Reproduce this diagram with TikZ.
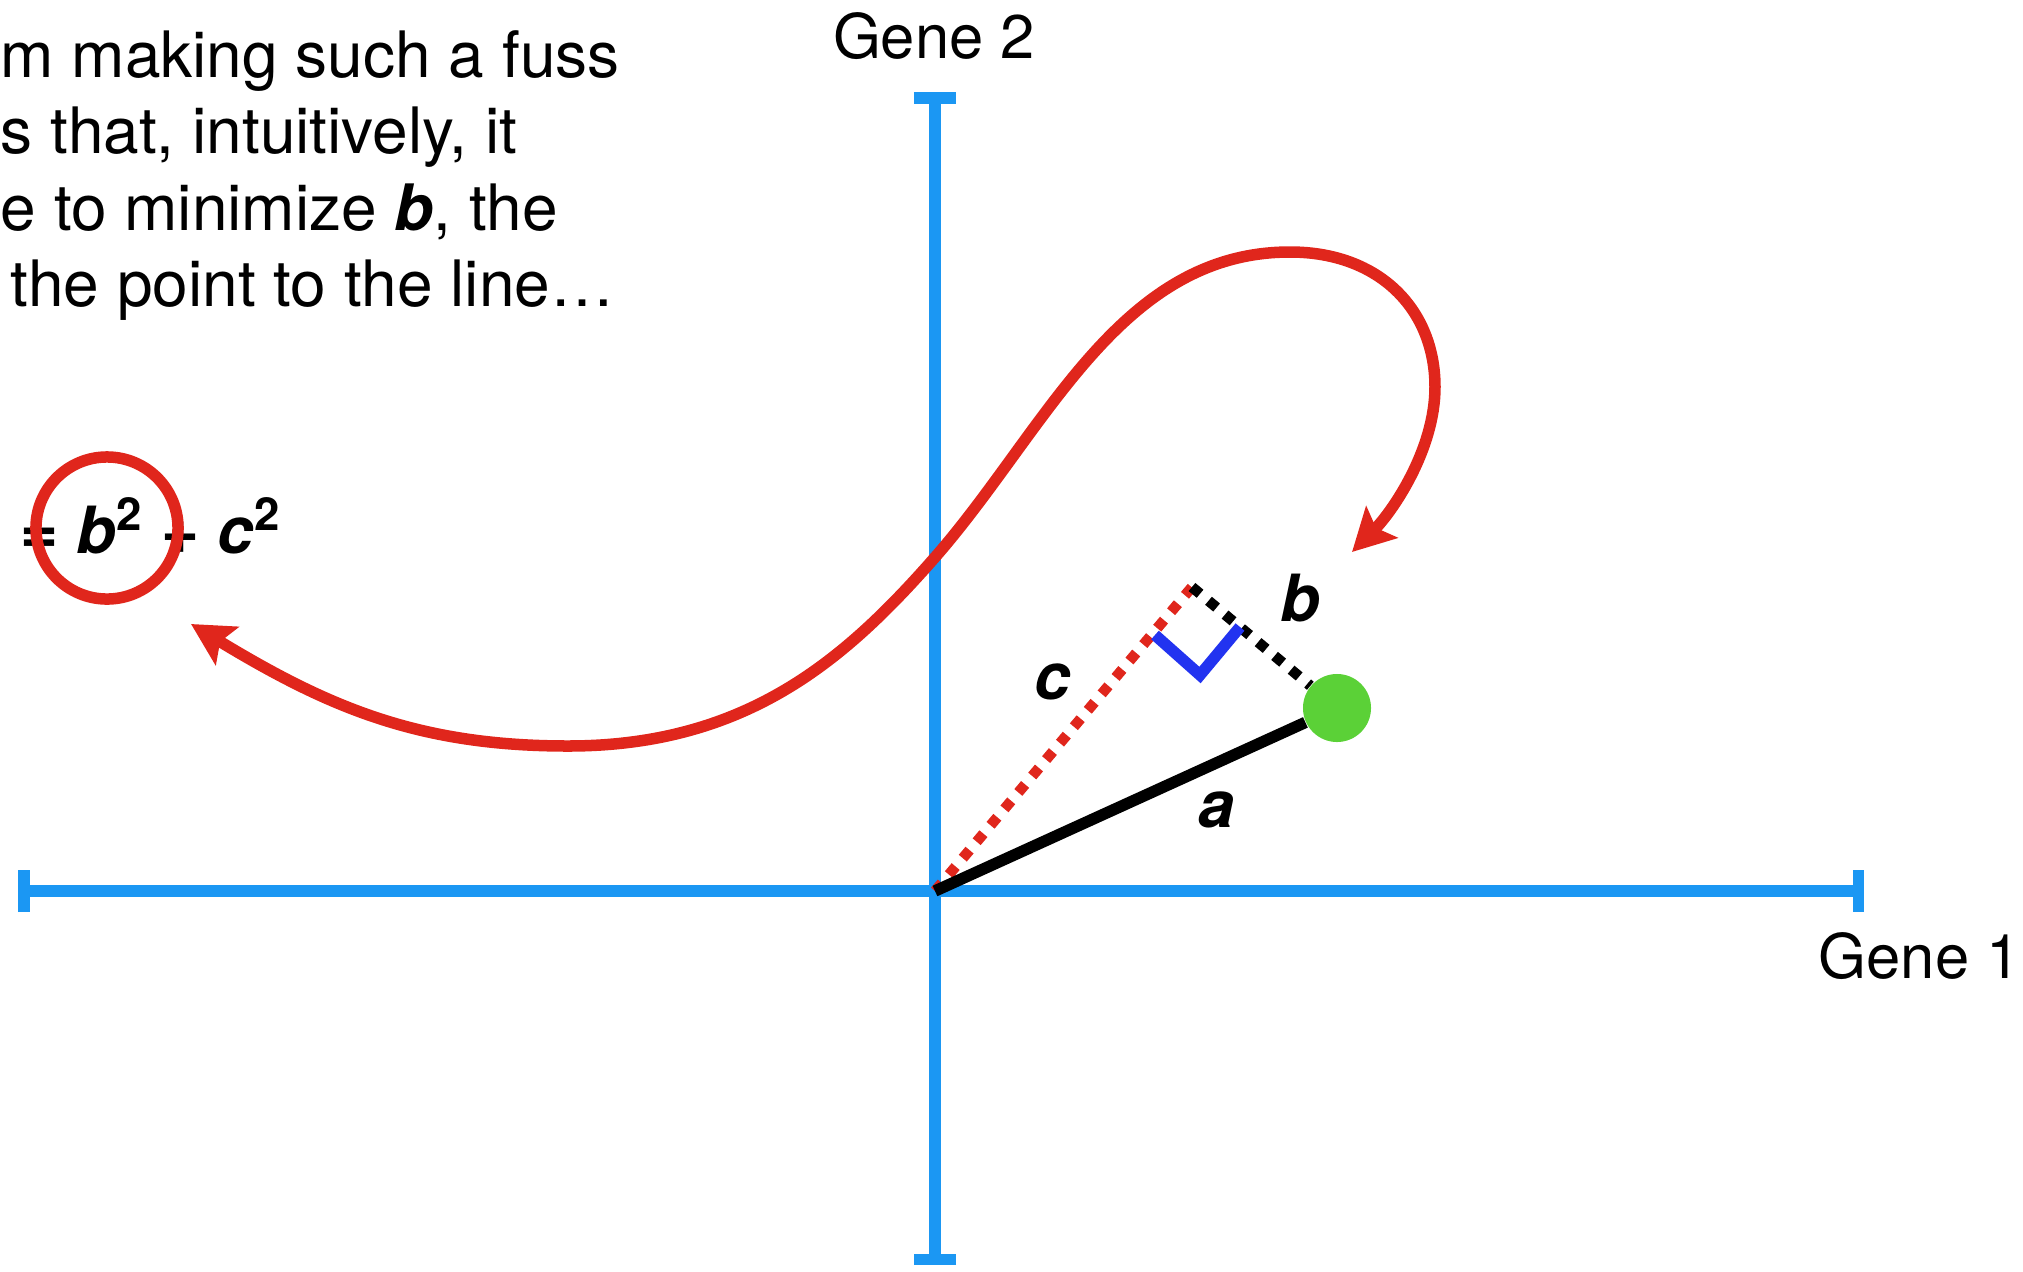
\documentclass[tikz,border=0pt]{standalone}
\usepackage{fontspec}
\setmainfont{TeX Gyre Heros}
\usepackage{tikz}
\usetikzlibrary{arrows.meta,positioning}
\definecolor{AxisBlue}{HTML}{1B97F3}
\definecolor{LoopRed}{HTML}{E0261C}
\definecolor{PointGreen}{HTML}{5BD137}
\definecolor{AngleBlue}{HTML}{2233F0}

\begin{document}
\begin{tikzpicture}[
  x=0.01cm,y=-0.01cm,
  axis/.style={draw=AxisBlue,line width=1.15mm,{Bar[width=4.2mm]}-{Bar[width=4.2mm]}},
  txt/.style={anchor=base west,inner sep=0pt,font=\fontsize{18.2}{22}\selectfont},
  gene/.style={anchor=base west,inner sep=0pt,font=\fontsize{17.5}{21}\selectfont},
  lbl/.style={inner sep=0pt,font=\fontsize{18.5}{22}\selectfont\bfseries\itshape},
  dots/.style={line width=1.05mm,dash pattern=on 1.05mm off 1.1mm},
  arrow/.style={{Stealth[length=4.2mm,width=4.4mm,inset=0.8mm]}-{Stealth[length=4.2mm,width=4.4mm,inset=0.8mm]},line width=1.15mm,color=LoopRed}
]
  \useasboundingbox (0,0) rectangle (2023,1272);
  \node[txt] (line1) at (0,77) {m making such a fuss};
  \node[txt] (line2) at (0,153) {s that, intuitively, it};
  \node[txt] (line3) at (0,230) {e to minimize \textbf{\textit{b}}, the};
  \node[txt] (line4) at (10,306) {the point to the line…};
  \node[anchor=base west,inner sep=0pt,font=\fontsize{18.5}{23}\selectfont\bfseries] (eq) at (20,553) {= \textit{b}\textsuperscript{2} + \textit{c}\textsuperscript{2}};
  \node[draw=LoopRed,line width=1.15mm,circle,minimum size=1.42cm,inner sep=0pt] (ring) at (107,528) {};
  \coordinate (O) at (935,891);
  \coordinate (xl) at (18,891);
  \coordinate (xr) at (1864,891);
  \coordinate (yt) at (935,92);
  \coordinate (yb) at (935,1265);
  \draw[axis] (xl) -- (xr);
  \draw[axis] (yb) -- (yt);
  \coordinate (start) at (191,624);
  \coordinate (end) at (1352,552);
  \draw[arrow] (start) .. controls (328,707) and (418,746) .. (568,746)
    .. controls (748,746) and (847,658) .. (937,555)
    .. controls (1047,428) and (1120,252) .. (1290,252)
    .. controls (1380,252) and (1435,310) .. (1435,387)
    .. controls (1435,450) and (1392,512) .. (end);
  \node[gene,anchor=base] (gene2) at (934,58) {Gene 2};
  \node[gene] (gene1) at (1818,978) {Gene 1};
  \node[circle,fill=PointGreen,minimum size=0.68cm,inner sep=0pt] (pt) at (1337,708) {};
  \coordinate (foot) at (1192,587);
  \draw[dots,LoopRed] (O) -- (foot);
  \draw[dots] (foot) -- (pt);
  \draw[line width=1.15mm] (O) -- (pt);
  \draw[AngleBlue,line width=1.15mm] (1155,635) -- (1200,675) -- (1240,627);
  \node[lbl] (a) at (1217,810) {a};
  \node[lbl] (b) at (1300,598) {b};
  \node[lbl] (c) at (1053,682) {c};
\end{tikzpicture}
\end{document}
